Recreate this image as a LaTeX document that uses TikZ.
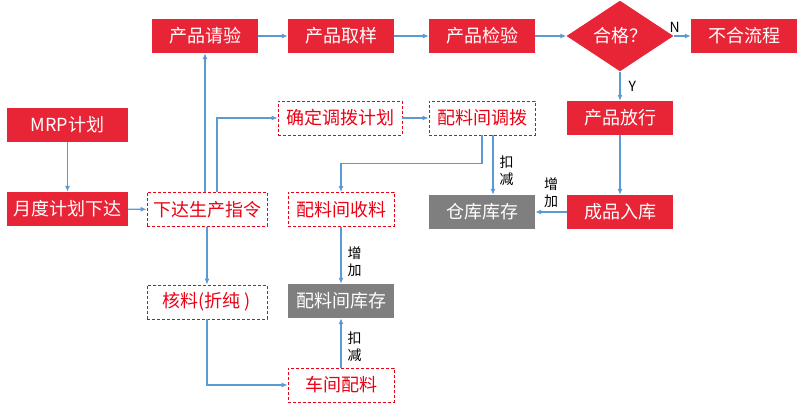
\documentclass[tikz,border=0pt]{standalone}
\usepackage{fontspec}
\setmainfont{Noto Sans CJK SC}
\usetikzlibrary{arrows.meta,shapes.geometric}
\definecolor{boxred}{RGB}{232,37,54}
\definecolor{boxgray}{RGB}{127,127,127}
\definecolor{lineblue}{RGB}{91,155,213}
\definecolor{dashred}{RGB}{235,0,20}
\tikzset{
    redbox/.style={fill=boxred,text=white,minimum width=106pt,minimum height=34pt,inner sep=0pt,font=\fontsize{18}{21}\selectfont},
    graybox/.style={redbox,fill=boxgray},
    dashbox/.style={draw=dashred,dash pattern=on 3pt off 2pt,line width=0.8pt,text=dashred,minimum width=106pt,minimum height=34pt,inner sep=0pt,font=\fontsize{18}{21}\selectfont},
    decide/.style={diamond,fill=boxred,text=white,minimum width=107pt,minimum height=43pt,inner sep=0pt,font=\fontsize{18}{21}\selectfont},
    arr/.style={draw=lineblue,line width=1.1pt,-{Latex[length=6pt,width=5pt]}},
    tag/.style={font=\fontsize{14}{17}\selectfont,align=center,inner sep=0pt}
}
\begin{document}
\begin{tikzpicture}[x=1pt,y=-1pt]
    \useasboundingbox (0,0) rectangle (804,417);
    \node[redbox] (qingyan) at (205,36) {产品请验};
    \node[redbox] (quyang) at (341,36) {产品取样};
    \node[redbox] (jianyan) at (482,36) {产品检验};
    \node[decide] (hege) at (620,36) {合格？};
    \node[redbox] (buhe) at (744,36) {不合流程};
    \node[redbox,minimum width=121pt] (mrp) at (67.5,125) {MRP计划};
    \node[redbox,minimum width=121pt] (yuedu) at (67.5,209) {月度计划下达};
    \node[dashbox,minimum width=120pt] (xiada) at (207,209.5) {下达生产指令};
    \node[dashbox,minimum width=124pt] (queding) at (340,118) {确定调拨计划};
    \node[dashbox] (tiaobo) at (482,118) {配料间调拨};
    \node[redbox] (fangxing) at (620,118) {产品放行};
    \node[graybox] (cangku) at (482,212) {仓库库存};
    \node[redbox] (ruku) at (620,212) {成品入库};
    \node[dashbox] (shouliao) at (341,209.5) {配料间收料};
    \node[dashbox,minimum width=120pt] (heliao) at (207,302) {核料(折纯 )};
    \node[graybox] (peiku) at (341,301) {配料间库存};
    \node[dashbox] (chejian) at (341,385) {车间配料};
    \draw[arr] (mrp) -- (yuedu);
    \draw[arr] (yuedu) -- (xiada);
    \draw[arr] (qingyan) -- (quyang);
    \draw[arr] (quyang) -- (jianyan);
    \draw[arr] (jianyan) -- (hege);
    \draw[arr] (hege) -- node[tag,pos=0,anchor=south,xshift=1pt,yshift=3pt] {N} (buhe);
    \draw[arr] (hege) -- node[tag,right,xshift=8pt] {Y} (fangxing);
    \draw[arr] (fangxing) -- (ruku);
    \draw[arr] (ruku) -- node[tag,above,yshift=4pt] {增\\加} (cangku);
    \draw[arr] (qingyan.south |- xiada.north) -- (qingyan.south);
    \draw[arr] ([xshift=10pt]xiada.north) |- (queding);
    \draw[arr] (queding) -- (tiaobo);
    \draw[arr] (tiaobo.south) -- ++(0,28) -| (shouliao.north);
    \draw[arr] ([xshift=11pt]tiaobo.south) -- node[tag,right,xshift=6pt,yshift=-6pt] {扣\\减} ([xshift=11pt]cangku.north);
    \draw[arr] (xiada) -- (heliao);
    \draw[arr] (heliao.south) |- (chejian);
    \draw[arr] (shouliao) -- node[tag,right,xshift=6pt,yshift=-6pt] {增\\加} (peiku);
    \draw[arr] (chejian) -- node[tag,right,xshift=6pt,yshift=-4pt] {扣\\减} (peiku);
\end{tikzpicture}
\end{document}
